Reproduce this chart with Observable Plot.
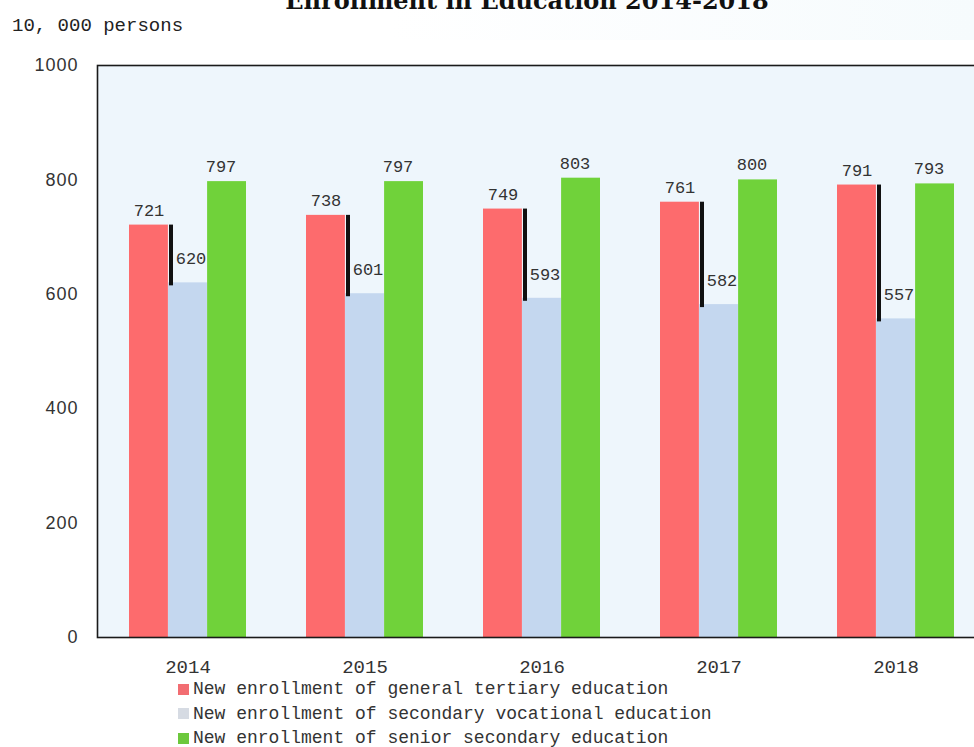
<!DOCTYPE html>
<html>
<head>
<meta charset="utf-8">
<script src="https://cdn.jsdelivr.net/npm/d3@7"></script>
<script src="https://cdn.jsdelivr.net/npm/@observablehq/plot@0.6"></script>
<style>
  body { margin: 0; background: #fff; }
  #wrap { position: relative; width: 974px; height: 747px; overflow: hidden; }
  #header { position: relative; height: 40px; background: linear-gradient(to right, #fff 0%, #fff 40%, #f6fbfd 100%); }
  #title { position: absolute; left: 0; width: 1054px; text-align: center; top: -11px;
    font: bold 24px "DejaVu Serif", serif; line-height: 24px; color: #111; white-space: nowrap; }
  #ylabel { position: absolute; left: 12px; top: 17px; font: 19px "Liberation Mono", monospace; line-height: 19px; color: #222; white-space: nowrap; }
  #chart svg { display: block; }
  [aria-label^="y-axis"] text { font: 18px "Liberation Sans", sans-serif; letter-spacing: 1px; fill: #333; }
  [aria-label^="x-axis"] text { font: 19px "Liberation Mono", monospace; fill: #333; }
  #legend { position: relative; margin-left: 178px; margin-top: -3px; font: 18px "Liberation Mono", monospace; color: #333; }
  #legend .row { height: 24.5px; line-height: 24.5px; display: flex; align-items: center; white-space: nowrap; }
  #legend .sw { width: 11px; height: 11px; margin-right: 4px; flex: none; }
</style>
</head>
<body>
<div id="wrap">
  <div id="header">
    <div id="title">Enrollment in Education 2014-2018</div>
    <div id="ylabel">10, 000 persons</div>
  </div>
  <div id="chart"></div>
  <div id="legend"></div>
</div>
<script>
const years = ["2014", "2015", "2016", "2017", "2018"];
const tertiary = [721, 738, 749, 761, 791];
const vocational = [620, 601, 593, 582, 557];
const senior = [797, 797, 803, 800, 793];
const seriesNames = [
  "New enrollment of general tertiary education",
  "New enrollment of secondary vocational education",
  "New enrollment of senior secondary education"
];
const seriesColors = ["#fd6b6d", "#c4d7ef", "#70d23a"];
const legendColors = ["#f26d72", "#d6dbe3", "#6cc83c"];
const yTicks = [0, 200, 400, 600, 800, 1000];

const seriesValues = [tertiary, vocational, senior];
const rows = years.map((year, i) => ({
  year, tertiary: tertiary[i], vocational: vocational[i], senior: senior[i]
}));
const tables = seriesValues.map((vals, s) => years.map((year, i) => ({year, value: vals[i], s})));

const BW = 39.05; // width of one bar within a group
const barMarks = tables.map((t, s) => Plot.barY(t, {
  x: "year", y: "value", fill: seriesColors[s],
  insetLeft: s * BW, insetRight: (2 - s) * BW
}));

const labelDx = [-39, 3, 33];
const labelDy = [-15, -24, -15];
const labelMarks = tables.map((t, s) => Plot.text(t, {
  x: "year", y: "value", text: d => String(d.value),
  dx: labelDx[s], dy: labelDy[s],
  fontSize: 17, fontFamily: "Liberation Mono, monospace", fill: "#333",
  textAnchor: "middle"
}));

const chart = Plot.plot({
  width: 974,
  height: 640,
  marginTop: 25,
  marginBottom: 43,
  marginLeft: 97,
  marginRight: 0,
  style: { background: "transparent", overflow: "visible" },
  x: {
    domain: years, type: "band",
    paddingInner: 0.34, paddingOuter: 0.1405, align: 0.62,
    tickSize: 0, tickPadding: 22, label: null
  },
  y: {
    domain: [0, 1000], ticks: yTicks, tickFormat: d => String(d),
    tickSize: 0, tickPadding: 19, label: null
  },
  marks: [
    Plot.frame({ fill: "#eef6fc", stroke: null }),
    ...barMarks,
    Plot.ruleX(rows, {
      x: "year", y1: "vocational", y2: "tertiary",
      dx: 41.5 - 58.5, insetTop: 3,
      stroke: "#111", strokeWidth: 4
    }),
    Plot.ruleY(rows, {
      x: "year", y: () => 0, dy: 1.5,
      insetRight: BW, stroke: "#222", strokeWidth: 2
    }),
    Plot.frame({ stroke: "#1a1a1a", strokeWidth: 1.6, insetRight: -4 }),
    ...labelMarks
  ]
});
document.getElementById("chart").appendChild(chart);

const legend = document.getElementById("legend");
seriesNames.forEach((name, i) => {
  const row = document.createElement("div");
  row.className = "row";
  const sw = document.createElement("span");
  sw.className = "sw";
  sw.style.background = legendColors[i];
  const label = document.createElement("span");
  label.textContent = name;
  row.appendChild(sw);
  row.appendChild(label);
  legend.appendChild(row);
});
</script>
</body>
</html>
